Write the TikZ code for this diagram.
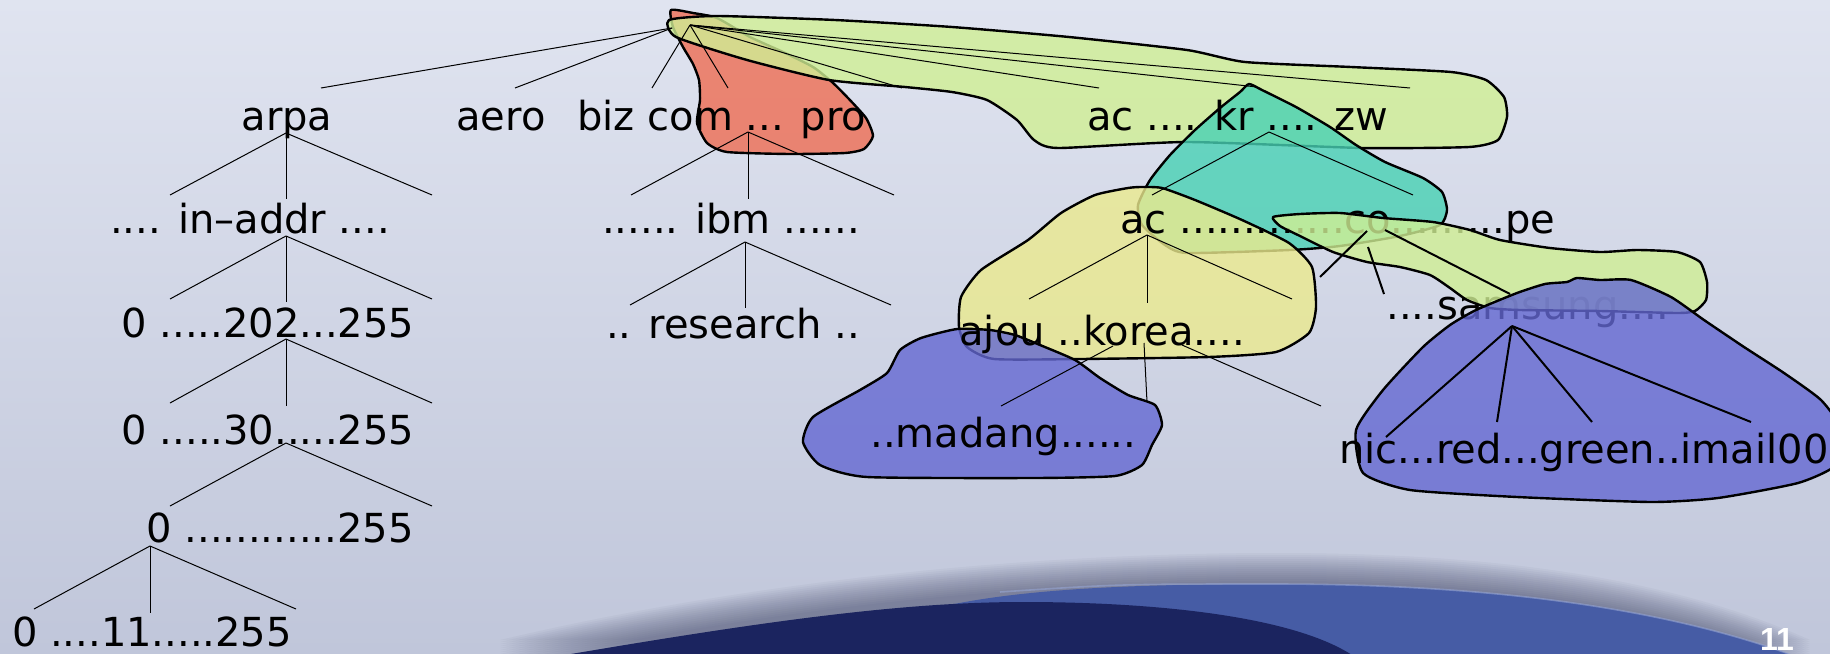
\documentclass[tikz,border=0pt]{standalone}
\usepackage{fontspec}
\setmainfont{DejaVu Sans}
\newfontfamily\pagefont{Liberation Sans}
\begin{document}
\begin{tikzpicture}[x=0.5pt,y=-0.5pt,
  lbl/.style={font=\fontsize{20}{24}\selectfont, inner sep=0pt, text=black},
  edge/.style={line width=0.5pt, draw=black},
  heavy/.style={line width=1pt, draw=black},
  blob/.style={draw=black, line width=1.2pt, fill opacity=0.8, line join=round},
]
\definecolor{bgtop}{RGB}{224,228,240}
\definecolor{bgbot}{RGB}{192,198,218}
\definecolor{shadowc}{RGB}{50,55,90}
\definecolor{bandblue}{RGB}{70,92,165}
\definecolor{bandhi}{RGB}{150,165,210}
\definecolor{navy}{RGB}{27,36,95}
\definecolor{blobred}{RGB}{238,109,83}
\definecolor{blobgreen}{RGB}{208,239,148}
\definecolor{blobteal}{RGB}{72,209,180}
\definecolor{blobyellow}{RGB}{235,234,142}
\definecolor{blobblue}{RGB}{100,104,210}

\useasboundingbox (0,0) rectangle (1830,653);
\clip (0,0) rectangle (1830,653);

% backdrop
\shade[top color=bgtop, bottom color=bgbot] (0,0) rectangle (1830,653);

% soft shadow above the bottom swoosh
\foreach \k in {1,...,15}{
  \fill[shadowc, opacity=0.04, yshift=\k pt]
    (500,670) .. controls (690,625) and (880,603) .. (1000,594)
    .. controls (1100,586) and (1200,583) .. (1273,583)
    .. controls (1450,583) and (1650,598) .. (1810,670) -- cycle;
}
% lighter blue band and dark navy swoosh
\fill[bandblue] (920,612) .. controls (1000,590) and (1120,584) .. (1273,584)
  .. controls (1450,584) and (1650,600) .. (1805,660) -- (920,660) -- cycle;
\draw[bandhi, line width=0.8pt, opacity=0.6] (1000,592) .. controls (1120,584) .. (1273,584)
  .. controls (1450,584) and (1650,600) .. (1805,660);
\fill[navy] (565,655) .. controls (760,622) and (900,602) .. (1023,602)
  .. controls (1150,602) and (1290,615) .. (1352,655) -- cycle;

% zone outlines
\draw[blob, fill=blobred] plot[smooth cycle, tension=0.35] coordinates {
  (671,10) (693,13) (717,18) (750,37) (783,52) (813,67) (832,82) (848,98)
  (866,118) (873,136) (864,149) (845,153) (790,154) (727,152) (707,143)
  (697,123) (700,100) (699,80) (693,64) (683,47) (673,27)};
\draw[blob, fill=blobgreen] plot[smooth cycle, tension=0.35] coordinates {
  (669,20) (717,16) (835,20) (952,27) (1069,37) (1187,50) (1245,62)
  (1351,67) (1451,72) (1486,80) (1504,97) (1507,117) (1498,140) (1469,147)
  (1363,148) (1187,142) (1058,148) (1034,140) (1017,120) (987,100)
  (952,92) (905,87) (829,80) (747,60) (676,37)};
\draw[blob, fill=blobteal] plot[smooth cycle, tension=0.35] coordinates {
  (1249,84) (1262,90) (1296,107) (1330,127) (1356,145) (1385,162)
  (1423,178) (1442,192) (1447,210) (1440,225) (1400,236) (1340,246)
  (1290,250) (1187,253) (1165,245) (1142,225) (1138,205) (1150,180)
  (1170,155) (1195,130) (1220,108) (1240,92)};
\draw[blob, fill=blobyellow] plot[smooth cycle, tension=0.35] coordinates {
  (1142,187) (1162,188) (1195,200) (1242,220) (1289,243) (1312,267)
  (1316,307) (1309,333) (1276,352) (1209,357) (1081,359) (994,359)
  (967,347) (959,327) (961,297) (981,270) (1028,240) (1061,213)
  (1095,195) (1128,188)};
\draw[blob, fill=blobblue] plot[smooth cycle, tension=0.35] coordinates {
  (921,338) (957,329) (990,330) (1015,335) (1040,345) (1075,360)
  (1100,378) (1128,395) (1155,405) (1162,425) (1152,445) (1142,465)
  (1115,476) (1034,478) (867,477) (820,465) (803,442) (813,417)
  (860,390) (887,373) (900,350)};

% domain labels
\node[lbl, anchor=base] (arpa) at (287,130) {arpa};
\node[lbl, anchor=base] (aero) at (501,130) {aero};
\node[lbl, anchor=base west] (bizpro) at (577,130) {biz com ... pro};
\node[lbl, anchor=base west] (ackrzw) at (1087,130) {ac .... kr .... zw};
\node[lbl, anchor=base] (inaddr) at (250,233) {.... in–addr ....};
\node[lbl, anchor=base] (ibm) at (731,233) {...... ibm ......};
\node[lbl, anchor=base west] (accope) at (1120,233) {ac .............co.........pe};
\node[lbl, anchor=base] (n202) at (268,337) {0 .....202...255};
\node[lbl, anchor=base] (research) at (733,338) {.. research ..};
\node[lbl, anchor=base west] (korea) at (959,345) {ajou ..korea....};
\node[lbl, anchor=base west] (samsung) at (1386,319) {....samsung....};
\node[lbl, anchor=base] (n30) at (268,444) {0 .....30.....255};
\node[lbl, anchor=base west] (madang) at (870,447) {..madang......};
\node[lbl, anchor=base] (n0) at (280,542) {0 ............255};
\node[lbl, anchor=base] (n11) at (152,646) {0 ....11.....255};

% zones drawn over their labels
\draw[blob, fill=blobgreen] plot[smooth cycle, tension=0.35] coordinates {
  (1273,217) (1300,214) (1340,213) (1383,218) (1433,222) (1470,230)
  (1500,240) (1550,248) (1600,252) (1637,250) (1677,252) (1700,262)
  (1707,282) (1706,300) (1695,311) (1677,313) (1600,311) (1520,310)
  (1490,308) (1467,300) (1450,288) (1430,275) (1400,267) (1367,262)
  (1333,252) (1300,236) (1280,226)};
\draw[blob, fill=blobblue] plot[smooth cycle, tension=0.35] coordinates {
  (1517,293) (1545,284) (1567,282) (1577,278) (1600,280) (1631,280)
  (1671,297) (1704,320) (1744,347) (1784,373) (1821,400) (1842,430)
  (1836,465) (1798,483) (1718,498) (1651,502) (1517,497) (1410,490)
  (1363,473) (1356,430) (1383,390) (1423,347) (1450,325) (1476,310)};
\node[lbl, anchor=base west] (hosts) at (1339,463) {nic...red...green..imail00};

% branch points and branch ends
\coordinate (rootL) at (672,28);
\coordinate (rootR) at (690,25);
\coordinate (tArpa) at (321,88);
\coordinate (tAero) at (515,88);
\coordinate (tBiz) at (652,88);
\coordinate (tCom) at (728,88);
\coordinate (tPro) at (902,88);
\coordinate (tAc) at (1099,88);
\coordinate (tKr) at (1257,87);
\coordinate (tZw) at (1410,88);

\draw[edge] (rootL) -- (tArpa);
\draw[edge] (rootL) -- (tAero);
\foreach \e in {tBiz,tCom,tPro,tAc,tKr,tZw} \draw[edge] (rootR) -- (\e);

% arpa branch
\coordinate (jArpa) at (286,133);
\coordinate (jArpa1) at (170,195);
\coordinate (jArpa2) at (286,199);
\coordinate (jArpa3) at (432,195);
\coordinate (jIn) at (286,236);
\coordinate (jIn1) at (170,299);
\coordinate (jIn2) at (286,302);
\coordinate (jIn3) at (432,299);
\coordinate (j202) at (286,339);
\coordinate (j2021) at (170,403);
\coordinate (j2022) at (286,406);
\coordinate (j2023) at (432,403);
\coordinate (j30) at (286,443);
\coordinate (j301) at (170,506);
\coordinate (j303) at (432,506);
\coordinate (j0) at (150,546);
\coordinate (j01) at (34,609);
\coordinate (j02) at (150,613);
\coordinate (j03) at (296,609);
\foreach \e in {jArpa1,jArpa2,jArpa3} \draw[edge] (jArpa) -- (\e);
\foreach \e in {jIn1,jIn2,jIn3} \draw[edge] (jIn) -- (\e);
\foreach \e in {j2021,j2022,j2023} \draw[edge] (j202) -- (\e);
\foreach \e in {j301,j303} \draw[edge] (j30) -- (\e);
\foreach \e in {j01,j02,j03} \draw[edge] (j0) -- (\e);

% com branch
\coordinate (jCom) at (748,132);
\coordinate (jCom1) at (631,195);
\coordinate (jCom2) at (748,199);
\coordinate (jCom3) at (894,195);
\coordinate (jIbm) at (745,242);
\coordinate (jIbm1) at (630,305);
\coordinate (jIbm2) at (745,308);
\coordinate (jIbm3) at (891,305);
\foreach \e in {jCom1,jCom2,jCom3} \draw[edge] (jCom) -- (\e);
\foreach \e in {jIbm1,jIbm2,jIbm3} \draw[edge] (jIbm) -- (\e);

% kr branch
\coordinate (jKr) at (1269,132);
\coordinate (jKr1) at (1152,195);
\coordinate (jKr3) at (1413,195);
\foreach \e in {jKr1,jKr3} \draw[edge] (jKr) -- (\e);
\coordinate (jAc) at (1147,235);
\coordinate (jAc1) at (1029,299);
\coordinate (jAc2) at (1147,303);
\coordinate (jAc3) at (1292,299);
\foreach \e in {jAc1,jAc2,jAc3} \draw[edge] (jAc) -- (\e);
\coordinate (jKo1s) at (1113,346);
\coordinate (jKo1) at (1001,406);
\coordinate (jKo2s) at (1144,343);
\coordinate (jKo2) at (1147,402);
\coordinate (jKo3s) at (1182,345);
\coordinate (jKo3) at (1321,406);
\draw[edge] (jKo1s) -- (jKo1);
\draw[edge] (jKo2s) -- (jKo2);
\draw[edge] (jKo3s) -- (jKo3);

% co branch
\coordinate (jCo1s) at (1367,231);
\coordinate (jCo1) at (1320,277);
\coordinate (jCo2s) at (1368,247);
\coordinate (jCo2) at (1384,294);
\coordinate (jCo3s) at (1385,230);
\coordinate (jCo3) at (1510,294);
\draw[heavy] (jCo1s) -- (jCo1);
\draw[heavy] (jCo2s) -- (jCo2);
\draw[heavy] (jCo3s) -- (jCo3);

% samsung branch
\coordinate (jSam) at (1512,326);
\coordinate (jSam1) at (1386,437);
\coordinate (jSam2) at (1497,422);
\coordinate (jSam3) at (1592,422);
\coordinate (jSam4) at (1751,422);
\foreach \e in {jSam1,jSam2,jSam3,jSam4} \draw[heavy] (jSam) -- (\e);

% page number
\node[font=\pagefont\bfseries\fontsize{16}{18}\selectfont, text=white, inner sep=0pt] (pageno) at (1777,639) {11};
\end{tikzpicture}
\end{document}
